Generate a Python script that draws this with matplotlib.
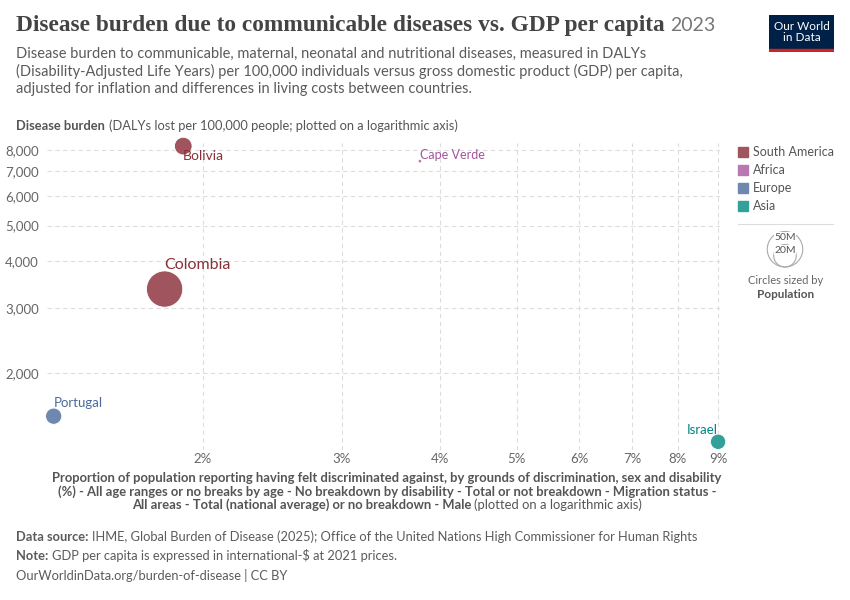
import matplotlib.pyplot as plt
from matplotlib.patches import Rectangle, Circle
from matplotlib.ticker import FixedLocator, NullLocator

plt.rcParams['font.family'] = ['Lato', 'DejaVu Sans']

# data
countries = ['Colombia', 'Bolivia', 'Cape Verde', 'Portugal', 'Israel']
continents = ['South America', 'South America', 'Africa', 'Europe', 'Asia']
discrimination = [1.79, 1.89, 3.77, 1.295, 9.0]      # % of population (x)
daly_rate = [3370, 8190, 7460, 1530, 1305]            # DALYs per 100,000 (y)
population = [52.1e6, 12.4e6, 0.52e6, 10.4e6, 9.3e6]

legend_order = ['South America', 'Africa', 'Europe', 'Asia']
fill_colors = {'South America': '#a0545e', 'Africa': '#b879b3',
               'Europe': '#6f88b0', 'Asia': '#33a09a'}
label_colors = {'South America': '#883039', 'Africa': '#a2559c',
                'Europe': '#4c6a9c', 'Asia': '#00847e'}

x_ticks = [2, 3, 4, 5, 6, 7, 8, 9]
y_ticks = [2000, 3000, 4000, 5000, 6000, 7000, 8000]

W, H = 850, 600
fig = plt.figure(figsize=(8.5, 6), dpi=100)


def fx(px):
    return px / W


def fy(py):
    return 1 - py / H


ax = fig.add_axes([fx(47), fy(450), fx(720) - fx(47), fy(143) - fy(450)])
ax.set_xscale('log')
ax.set_yscale('log')
ax.set_xlim(1.27, 9.05)
ax.set_ylim(1240, 8350)

# circle area proportional to population
scale = 680 / 52e6
sizes = [p * scale for p in population]
ax.scatter(discrimination, daly_rate, s=sizes,
           c=[fill_colors[c] for c in continents],
           edgecolors='white', linewidths=0.6, zorder=3, clip_on=False)

ax.xaxis.set_major_locator(FixedLocator(x_ticks))
ax.xaxis.set_minor_locator(NullLocator())
ax.set_xticklabels([f'{t}%' for t in x_ticks])
ax.yaxis.set_major_locator(FixedLocator(y_ticks))
ax.yaxis.set_minor_locator(NullLocator())
ax.set_yticklabels([f'{t:,}' for t in y_ticks])
ax.tick_params(length=0, labelsize=9.5, labelcolor='#666666')
ax.tick_params(axis='x', pad=2)
ax.tick_params(axis='y', pad=6)
ax.grid(True, color='#dddddd', linestyle=(0, (4, 3)), linewidth=0.8)
ax.set_axisbelow(True)
for sp in ax.spines.values():
    sp.set_visible(False)

# point labels (offsets in points)
offsets = {'Colombia': (0, 12, 'left', 11.5),
           'Bolivia': (0, -7, 'left', 10),
           'Cape Verde': (0, 0, 'left', 9),
           'Portugal': (0, 5, 'left', 9.5),
           'Israel': (0, 4, 'right', 9.5)}
for name, cont, x, y in zip(countries, continents, discrimination, daly_rate):
    dx, dy, ha, fs = offsets[name]
    ax.annotate(name, (x, y), xytext=(dx, dy), textcoords='offset points',
                ha=ha, va='bottom' if dy >= 0 else 'center', fontsize=fs,
                color=label_colors[cont], zorder=4, annotation_clip=False)

# overlay in pixel units for round legend circles
ov = fig.add_axes([0, 0, 1, 1], zorder=-1)
ov.set_xlim(0, W)
ov.set_ylim(H, 0)
ov.axis('off')

fig.canvas.draw()
r = fig.canvas.get_renderer()

# header
title = fig.text(fx(16), fy(31), 'Disease burden due to communicable diseases vs. GDP per capita',
                 family='Liberation Serif', fontsize=16.8, fontweight='bold', color='#444444',
                 va='baseline')
fig.canvas.draw()
tx1 = title.get_window_extent(r).x1
fig.text(tx1 / W + 6 / W, fy(31), '2023', fontsize=14, color='#777777', va='baseline')
sub = ('Disease burden to communicable, maternal, neonatal and nutritional diseases, measured in DALYs\n'
       '(Disability-Adjusted Life Years) per 100,000 individuals versus gross domestic product (GDP) per capita,\n'
       'adjusted for inflation and differences in living costs between countries.')
fig.text(fx(16), fy(47), sub, fontsize=10.5, color='#5b5b5b', va='top', linespacing=1.25)

# logo
logo = fig.add_axes([fx(769), fy(52), fx(834) - fx(769), fy(15) - fy(52)])
logo.set_xlim(0, 1)
logo.set_ylim(0, 1)
logo.axis('off')
logo.add_patch(Rectangle((0, 0), 1, 1, color='#002147'))
logo.add_patch(Rectangle((0, 0), 1, 0.08, color='#ce261e'))
logo.text(0.5, 0.55, 'Our World\nin Data', color='white', fontsize=8.5,
          ha='center', va='center', linespacing=1.0)

# y axis title
ytitle = fig.text(fx(16), fy(126), 'Disease burden', fontsize=9.25, fontweight='bold',
                  color='#555555', va='center')
fig.canvas.draw()
bb = ytitle.get_window_extent(r)
fig.text((bb.x1 + 4) / W, fy(126), '(DALYs lost per 100,000 people; plotted on a logarithmic axis)',
         fontsize=9.25, color='#555555', va='center')

# x axis title
xs = 9.4
fig.text(fx(387), fy(478), 'Proportion of population reporting having felt discriminated against, by grounds of discrimination, sex and disability',
         fontsize=xs, fontweight='bold', color='#555555', ha='center', va='center')
fig.text(fx(387), fy(492), '(%) - All age ranges or no breaks by age - No breakdown by disability - Total or not breakdown - Migration status -',
         fontsize=xs, fontweight='bold', color='#555555', ha='center', va='center')
part_a = 'All areas - Total (national average) or no breakdown - Male '
part_b = '(plotted on a logarithmic axis)'
ta = fig.text(0, fy(505), part_a, fontsize=xs, fontweight='bold', color='#555555', va='center')
tb = fig.text(0, fy(505), part_b, fontsize=xs, color='#555555', va='center')
fig.canvas.draw()
wa = ta.get_window_extent(r).width
wb = tb.get_window_extent(r).width
start = 387 - (wa + wb) / 2
ta.set_x(fx(start))
tb.set_x(fx(start + wa))

# colour legend
for i, cont in enumerate(legend_order):
    yy = 152 + i * 18
    ov.add_patch(Rectangle((738, yy - 5), 10, 10, color=fill_colors[cont]))
    fig.text(fx(753), fy(yy), cont, fontsize=9, color='#555555', va='center')
ov.plot([738, 833], [224, 224], color='#dddddd', linewidth=0.8)

# size legend
cx, base = 785, 267
for pop, lbl, ty in [(50e6, '50M', 237), (20e6, '20M', 250)]:
    rad = (pop * scale) ** 0.5 / 2 / 0.72
    ov.add_patch(Circle((cx, base - rad), rad, fill=False, edgecolor='#aaaaaa', linewidth=0.8))
    fig.text(fx(cx), fy(ty), lbl, fontsize=7.5, color='#555555', ha='center', va='center',
             bbox=dict(facecolor='white', edgecolor='none', pad=0.2))
fig.text(fx(786), fy(280), 'Circles sized by', fontsize=8, color='#666666', ha='center', va='center')
fig.text(fx(786), fy(294), 'Population', fontsize=8.5, fontweight='bold', color='#555555',
         ha='center', va='center')

# footer
fs_foot = 9.3
foot = [(537, 'Data source:', 'IHME, Global Burden of Disease (2025); Office of the United Nations High Commissioner for Human Rights'),
        (556, 'Note:', 'GDP per capita is expressed in international-$ at 2021 prices.')]
for yy, bold, rest in foot:
    t = fig.text(fx(16), fy(yy), bold, fontsize=fs_foot, fontweight='bold', color='#5b5b5b', va='center')
    fig.canvas.draw()
    x1 = t.get_window_extent(r).x1
    fig.text((x1 + 4) / W, fy(yy), rest, fontsize=fs_foot, color='#5b5b5b', va='center')
fig.text(fx(16), fy(576), 'OurWorldinData.org/burden-of-disease | CC BY', fontsize=fs_foot,
         color='#5b5b5b', va='center')

fig.savefig('out.png', dpi=100, facecolor='white')
